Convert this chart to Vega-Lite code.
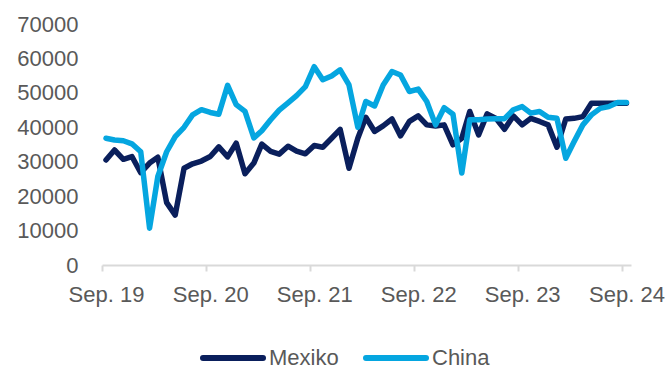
{
  "$schema": "https://vega.github.io/schema/vega-lite/v6.json",
  "width": 529,
  "height": 241,
  "autosize": "none",
  "padding": {"left": 102, "top": 24, "right": 37, "bottom": 104},
  "background": "white",
  "config": {
    "view": {"stroke": null},
    "font": "Liberation Sans"
  },
  "data": {
    "values": [
      {"m": "2019-09-15", "Mexiko": 30500, "China": 36800},
      {"m": "2019-10-15", "Mexiko": 33400, "China": 36300},
      {"m": "2019-11-15", "Mexiko": 30700, "China": 36100},
      {"m": "2019-12-15", "Mexiko": 31500, "China": 35200},
      {"m": "2020-01-15", "Mexiko": 26800, "China": 32900},
      {"m": "2020-02-15", "Mexiko": 29600, "China": 10700},
      {"m": "2020-03-15", "Mexiko": 31300, "China": 25700},
      {"m": "2020-04-15", "Mexiko": 18100, "China": 32900},
      {"m": "2020-05-15", "Mexiko": 14500, "China": 37300},
      {"m": "2020-06-15", "Mexiko": 28100, "China": 40000},
      {"m": "2020-07-15", "Mexiko": 29400, "China": 43600},
      {"m": "2020-08-15", "Mexiko": 30200, "China": 45100},
      {"m": "2020-09-15", "Mexiko": 31500, "China": 44300},
      {"m": "2020-10-15", "Mexiko": 34300, "China": 43800},
      {"m": "2020-11-15", "Mexiko": 31400, "China": 52200},
      {"m": "2020-12-15", "Mexiko": 35400, "China": 46600},
      {"m": "2021-01-15", "Mexiko": 26500, "China": 44600},
      {"m": "2021-02-15", "Mexiko": 29600, "China": 36900},
      {"m": "2021-03-15", "Mexiko": 35100, "China": 39000},
      {"m": "2021-04-15", "Mexiko": 33000, "China": 42200},
      {"m": "2021-05-15", "Mexiko": 32200, "China": 45000},
      {"m": "2021-06-15", "Mexiko": 34500, "China": 47100},
      {"m": "2021-07-15", "Mexiko": 33100, "China": 49200},
      {"m": "2021-08-15", "Mexiko": 32300, "China": 51800},
      {"m": "2021-09-15", "Mexiko": 34700, "China": 57600},
      {"m": "2021-10-15", "Mexiko": 34200, "China": 53800},
      {"m": "2021-11-15", "Mexiko": 36800, "China": 54900},
      {"m": "2021-12-15", "Mexiko": 39400, "China": 56700},
      {"m": "2022-01-15", "Mexiko": 28100, "China": 52300},
      {"m": "2022-02-15", "Mexiko": 36800, "China": 40000},
      {"m": "2022-03-15", "Mexiko": 42900, "China": 47500},
      {"m": "2022-04-15", "Mexiko": 38800, "China": 46200},
      {"m": "2022-05-15", "Mexiko": 40400, "China": 52300},
      {"m": "2022-06-15", "Mexiko": 42400, "China": 56200},
      {"m": "2022-07-15", "Mexiko": 37500, "China": 55200},
      {"m": "2022-08-15", "Mexiko": 41700, "China": 50400},
      {"m": "2022-09-15", "Mexiko": 43300, "China": 51100},
      {"m": "2022-10-15", "Mexiko": 40700, "China": 47500},
      {"m": "2022-11-15", "Mexiko": 40400, "China": 40700},
      {"m": "2022-12-15", "Mexiko": 40700, "China": 45700},
      {"m": "2023-01-15", "Mexiko": 34900, "China": 43800},
      {"m": "2023-02-15", "Mexiko": 36800, "China": 26700},
      {"m": "2023-03-15", "Mexiko": 44600, "China": 42200},
      {"m": "2023-04-15", "Mexiko": 37800, "China": 42200},
      {"m": "2023-05-15", "Mexiko": 43900, "China": 42400},
      {"m": "2023-06-15", "Mexiko": 42600, "China": 42500},
      {"m": "2023-07-15", "Mexiko": 39400, "China": 42500},
      {"m": "2023-08-15", "Mexiko": 43300, "China": 45100},
      {"m": "2023-09-15", "Mexiko": 40700, "China": 46000},
      {"m": "2023-10-15", "Mexiko": 42600, "China": 44100},
      {"m": "2023-11-15", "Mexiko": 41700, "China": 44600},
      {"m": "2023-12-15", "Mexiko": 40700, "China": 42900},
      {"m": "2024-01-15", "Mexiko": 34200, "China": 42600},
      {"m": "2024-02-15", "Mexiko": 42400, "China": 31000},
      {"m": "2024-03-15", "Mexiko": 42600, "China": 35800},
      {"m": "2024-04-15", "Mexiko": 43100, "China": 40700},
      {"m": "2024-05-15", "Mexiko": 47000, "China": 43600},
      {"m": "2024-06-15", "Mexiko": 47000, "China": 45500},
      {"m": "2024-07-15", "Mexiko": 47000, "China": 46000},
      {"m": "2024-08-15", "Mexiko": 47000, "China": 47200},
      {"m": "2024-09-15", "Mexiko": 47000, "China": 47200}
    ]
  },
  "transform": [
    {"fold": ["Mexiko", "China"], "as": ["land", "wert"]}
  ],
  "mark": {"type": "line", "strokeWidth": 5.5, "strokeJoin": "round", "strokeCap": "round", "clip": false},
  "encoding": {
    "x": {
      "field": "m",
      "type": "temporal",
      "scale": {"domain": ["2019-09-01", "2024-10-01"]},
      "axis": {
        "title": null,
        "values": ["2019-09-01", "2020-09-01", "2021-09-01", "2022-09-01", "2023-09-01", "2024-09-01"],
        "format": "%b. %y",
        "grid": false,
        "domainColor": "#d9d9d9",
        "domainWidth": 2,
        "tickColor": "#d9d9d9",
        "tickWidth": 2,
        "tickSize": 6,
        "labelFontSize": 22,
        "labelColor": "#595959",
        "labelPadding": 13,
        "labelOffset": 4,
        "labelOverlap": false,
        "labelBound": false,
        "labelFlush": false,
        "labelFont": "Liberation Sans"
      }
    },
    "y": {
      "field": "wert",
      "type": "quantitative",
      "scale": {"domain": [0, 70000], "nice": false},
      "axis": {
        "title": null,
        "values": [0, 10000, 20000, 30000, 40000, 50000, 60000, 70000],
        "format": "d",
        "grid": false,
        "domain": false,
        "ticks": false,
        "labelFontSize": 22,
        "labelColor": "#595959",
        "labelPadding": 24,
        "labelOverlap": false,
        "labelFont": "Liberation Sans"
      }
    },
    "color": {
      "field": "land",
      "type": "nominal",
      "scale": {"domain": ["Mexiko", "China"], "range": ["#0a1f5c", "#05a6e0"]},
      "legend": {
        "title": null,
        "orient": "none",
        "direction": "horizontal",
        "legendX": 128,
        "legendY": 316,
        "symbolType": "M-3,0H1",
        "symbolSize": 900,
        "symbolStrokeWidth": 6,
        "labelFontSize": 22,
        "labelColor": "#595959",
        "labelFont": "Liberation Sans",
        "labelOffset": 3,
        "columnPadding": 15,
        "encode": {"symbols": {"update": {"strokeCap": {"value": "round"}}}}
      }
    }
  }
}
